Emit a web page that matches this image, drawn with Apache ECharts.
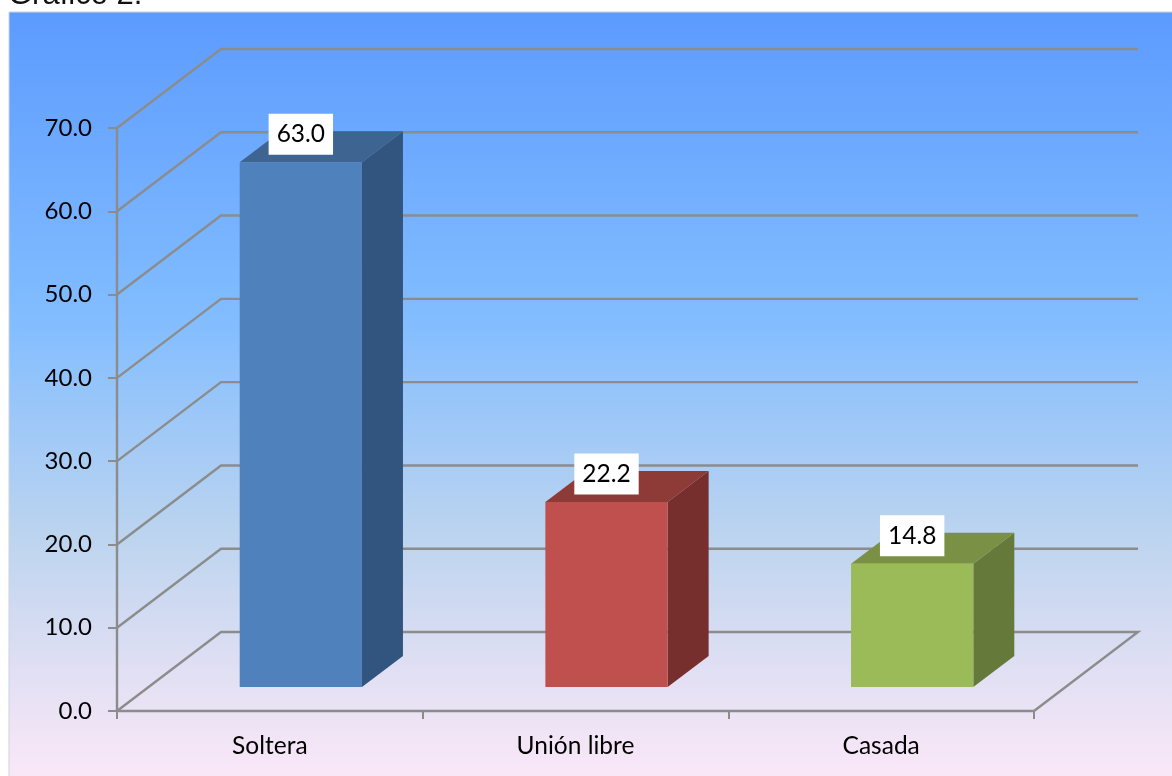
<!DOCTYPE html>
<html><head><meta charset="utf-8">
<style>html,body{margin:0;padding:0;background:#fff}#c{width:1172px;height:776px}</style>
<script src="https://cdn.jsdelivr.net/npm/echarts@6/dist/echarts.min.js"></script>
</head><body><div id="c"></div>
<script>
const categories = ['Soltera', 'Unión libre', 'Casada'];
const values = [63.0, 22.2, 14.8];
const yTicks = [0, 10, 20, 30, 40, 50, 60, 70];
const frontColors = ['#4f81bd', '#c0504d', '#9bbb59'];
const sideColors = ['#325580', '#772f2d', '#65793a'];
const topColors = ['#3e6492', '#8e3a37', '#7a9145'];
const titleText = 'Gráfico 2:';

const FONT = 'Lato';
const LINE = '#8c8c8c';
const WALL_DX = 104, WALL_DY = -79;
const BAR_DX = 31, BAR_DY = -24, BAR_DEPTH_X = 41, BAR_DEPTH_Y = -31;

const chart = echarts.init(document.getElementById('c'), null, {renderer: 'canvas'});
chart.setOption({
  animation: false,
  backgroundColor: '#ffffff',
  grid: {left: 117, right: 138, top: 128, bottom: 65, containLabel: false},
  graphic: [
    {type: 'rect', z: -10, silent: true, shape: {x: 9, y: 12, width: 1170, height: 770},
     style: {stroke: '#c9d3de', lineWidth: 1, fill: {type: 'linear', x: 0, y: 0, x2: 0, y2: 1, colorStops: [
       {offset: 0, color: '#5c9bff'}, {offset: 0.4, color: '#82bdff'},
       {offset: 0.68, color: '#bcd4ef'}, {offset: 0.88, color: '#e6e1f4'}, {offset: 1, color: '#fbe8f8'}]}}},
    {type: 'text', z: 10, silent: true, left: 8, top: -20,
     style: {text: titleText, font: '31px "Liberation Sans"', fill: '#111'}}
  ],
  xAxis: {type: 'category', data: categories, boundaryGap: true,
    axisLine: {lineStyle: {color: LINE, width: 2.4}},
    axisTick: {show: true, length: 8, lineStyle: {color: LINE, width: 2}},
    axisLabel: {color: '#000', fontFamily: FONT, fontSize: 24.5, margin: 23}},
  yAxis: {type: 'value', min: 0, max: 70, interval: 10,
    axisLine: {show: true, lineStyle: {color: LINE, width: 2.4}},
    axisTick: {show: true, length: 9, lineStyle: {color: LINE, width: 2}},
    splitLine: {show: false},
    axisLabel: {color: '#000', fontFamily: FONT, fontSize: 24, margin: 25,
      formatter: v => v.toFixed(1)}},
  series: [
    {type: 'custom', z: 1, silent: true, data: yTicks.map(v => [0, v]),
     renderItem(params, api) {
       const v = api.value(1);
       const a = api.coord([categories[0], v]);
       const x0 = params.coordSys.x, x1 = x0 + params.coordSys.width;
       const s = {stroke: LINE, lineWidth: 2.4, fill: null};
       const pts = [[x0, a[1]], [x0 + WALL_DX, a[1] + WALL_DY], [x1 + WALL_DX, a[1] + WALL_DY]];
       if (v === 0) pts.push([x1, a[1]]);
       return {type: 'polyline', shape: {points: pts}, style: s};
     }},
    {type: 'custom', z: 2, silent: true,
     data: values.map((v, i) => [i, v]),
     renderItem(params, api) {
       const i = params.dataIndex, v = api.value(1);
       const w = api.size([1, 0])[0] * 0.4;
       const c = api.coord([i, v]), b = api.coord([i, 0]);
       const l = c[0] - w / 2 + BAR_DX, r = l + w;
       const t = c[1] + BAR_DY, bt = b[1] + BAR_DY;
       const dx = BAR_DEPTH_X, dy = BAR_DEPTH_Y;
       return {type: 'group', children: [
         {type: 'polygon', shape: {points: [[r, t], [r + dx, t + dy], [r + dx, bt + dy], [r, bt]]},
          style: {fill: sideColors[i]}},
         {type: 'polygon', shape: {points: [[l, t], [l + dx, t + dy], [r + dx, t + dy], [r, t]]},
          style: {fill: topColors[i]}},
         {type: 'rect', shape: {x: l, y: t, width: w, height: bt - t}, style: {fill: frontColors[i]}},
         {type: 'text', x: c[0] + BAR_DX, y: t - 28, z2: 10,
          style: {text: v.toFixed(1), font: '24.5px ' + FONT, fill: '#000', align: 'center', verticalAlign: 'middle',
            backgroundColor: '#fff', padding: [10, 8, 6, 8]}}
       ]};
     }}
  ]
});
</script></body></html>
